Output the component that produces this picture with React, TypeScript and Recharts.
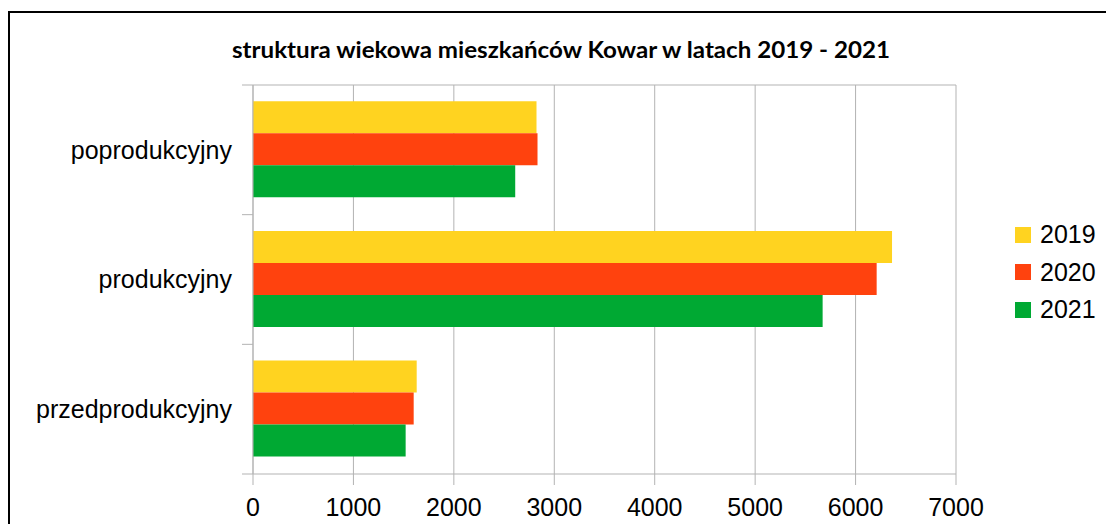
import React from "react";
import { BarChart, Bar, XAxis, YAxis, CartesianGrid, Legend } from "recharts";

const categories = ["poprodukcyjny", "produkcyjny", "przedprodukcyjny"];
const years = ["2019", "2020", "2021"];
const values2019 = [2823, 6363, 1630];
const values2020 = [2833, 6210, 1600];
const values2021 = [2611, 5672, 1520];
const xTicks = [0, 1000, 2000, 3000, 4000, 5000, 6000, 7000];
const colors = ["#ffd320", "#ff420e", "#00a933"];

const chartData = categories.map((name, i) => ({
  name,
  "2019": values2019[i],
  "2020": values2020[i],
  "2021": values2021[i],
}));

const W = 1106;
const H = 524;
const TOP = 85;
const RIGHT = 150;
const X_AXIS_H = 50;
const Y_AXIS_W = 253;
const TICK = 11;
const TICK_GAP = 10;
const GRID = "#b3b3b3";
const FONT = "'Liberation Sans', Arial, sans-serif";
const band = (H - TOP - X_AXIS_H) / categories.length;
const plotW = W - RIGHT - Y_AXIS_W;

/** category label plus small ticks at band edges (LibreOffice style) */
function CategoryTick(props: any) {
  const { x, y, payload, index } = props;
  const lx1 = x + TICK_GAP;
  const lx2 = lx1 + TICK;
  // first tick also closes the plot area at the top
  const topEnd = index === 0 ? lx2 + plotW : lx2;
  return (
    <g>
      <line x1={lx1} x2={topEnd} y1={y - band / 2} y2={y - band / 2} stroke={GRID} />
      {index === categories.length - 1 && (
        <line x1={lx1} x2={lx2} y1={y + band / 2} y2={y + band / 2} stroke={GRID} />
      )}
      <text x={x} y={y} dy="0.355em" textAnchor="end" fill="#000" fontSize={25} fontFamily={FONT}>
        {payload.value}
      </text>
    </g>
  );
}

function LegendBox({ payload }: any) {
  return (
    <div>
      {(payload || []).map((p: any) => (
        <div key={p.value} style={{ height: 37.5, display: "flex", alignItems: "center" }}>
          <span style={{ width: 16, height: 16, background: p.color, display: "inline-block" }} />
          <span style={{ marginLeft: 9, fontSize: 25, fontFamily: FONT, color: "#000" }}>{p.value}</span>
        </div>
      ))}
    </div>
  );
}

export default function App() {
  return (
    <div style={{ position: "absolute", left: 0, top: 0, width: W, height: H, overflow: "hidden", background: "#fff" }}>
      <div
        style={{
          position: "absolute",
          left: 8,
          top: 11,
          width: 1200,
          height: 600,
          border: "2px solid #000",
        }}
      />
      <svg style={{ position: "absolute", left: 0, top: 0 }} width={W} height={80}>
        <text
          x={232}
          y={58}
          textLength={658}
          lengthAdjust="spacingAndGlyphs"
          fontFamily="Lato, sans-serif"
          fontWeight={700}
          fontSize={22}
          fill="#000"
        >
          struktura wiekowa mieszkańców Kowar w latach 2019 - 2021
        </text>
      </svg>
      <div style={{ position: "absolute", left: 0, top: 0 }}>
        <BarChart
          width={W}
          height={H}
          data={chartData}
          layout="vertical"
          margin={{ top: TOP, right: RIGHT, bottom: 0, left: 0 }}
          barCategoryGap="12.5%"
          barGap={0}
        >
          <CartesianGrid vertical horizontal={false} stroke={GRID} />
          <XAxis
            type="number"
            domain={[0, 7000]}
            ticks={xTicks}
            interval={0}
            height={X_AXIS_H}
            tickSize={TICK}
            tickMargin={13}
            axisLine={{ stroke: GRID }}
            tickLine={{ stroke: GRID }}
            tick={{ fill: "#000", fontSize: 25, fontFamily: FONT }}
          />
          <YAxis
            type="category"
            dataKey="name"
            width={Y_AXIS_W}
            tickSize={TICK}
            tickMargin={TICK_GAP}
            tickLine={false}
            axisLine={{ stroke: GRID }}
            tick={<CategoryTick />}
            interval={0}
          />
          <Legend
            content={<LegendBox />}
            layout="vertical"
            align="center"
            verticalAlign="middle"
            wrapperStyle={{ position: "absolute", left: 1015, top: 216, width: 90 }}
          />
          {years.map((y, i) => (
            <Bar key={y} dataKey={y} fill={colors[i]} isAnimationActive={false} />
          ))}
        </BarChart>
      </div>
    </div>
  );
}
